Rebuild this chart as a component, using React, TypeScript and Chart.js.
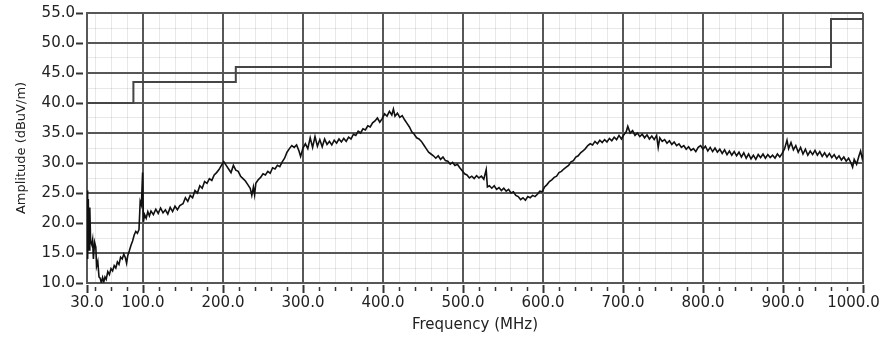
import { useEffect, useRef } from "react";
import { Chart, registerables } from "chart.js";

Chart.register(...registerables);

// Class B radiated emission limit: [start frequency MHz, level dBuV/m]
const limitSteps: [number, number][] = [
  [30, 40], [88, 43.5], [216, 46], [960, 54], [1000, 54],
];

// Measured peak scan: [frequency MHz, amplitude dBuV/m]
const measured: [number, number][] = [
  [30, 25.4], [30.8, 14.0], [31.6, 24.0], [32.5, 15.5], [33.5, 22.6], [34.5, 17.0],
  [36, 16.4], [37, 17.2], [38, 14.0], [39.5, 16.8], [41, 16.0], [42, 12.8],
  [43.5, 13.6], [45, 11.0], [46.5, 10.8], [48, 10.0], [49.5, 10.9], [51, 10.2],
  [52.5, 11.0], [54, 10.6], [56, 11.9], [58, 11.4], [60, 12.4], [62, 12.0],
  [64, 12.9], [66, 12.5], [68, 13.5], [70, 13.1], [72, 14.3], [74, 14.0],
  [76, 14.8], [78, 14.2], [79.5, 13.3], [81, 14.6], [83, 15.4], [85, 16.3],
  [87, 17.0], [89, 18.0], [91, 18.6], [93, 18.3], [95, 18.9], [96.5, 23.6],
  [98, 23.0], [99.5, 28.4], [100.5, 20.2], [102, 21.4], [104, 20.8], [106, 21.9],
  [108, 21.2], [110, 22.0], [113, 21.4], [116, 22.3], [119, 21.6], [122, 22.5],
  [125, 21.7], [128, 22.2], [131, 21.5], [134, 22.6], [137, 21.9], [140, 22.8],
  [143, 22.2], [146, 22.9], [150, 23.2], [153, 24.2], [156, 23.6], [159, 24.6],
  [162, 24.2], [165, 25.4], [168, 25.0], [171, 26.2], [174, 25.8], [177, 26.9],
  [180, 26.6], [183, 27.4], [186, 27.1], [189, 28.0], [192, 28.4], [195, 28.9],
  [198, 29.6], [201, 30.2], [204, 29.6], [207, 29.0], [210, 28.4], [213, 29.6],
  [216, 28.8], [219, 28.6], [222, 27.8], [225, 27.4], [228, 27.0], [231, 26.4],
  [234, 25.8], [236, 24.6], [238, 26.0], [239.5, 24.7], [241, 26.6], [244, 27.2],
  [247, 27.6], [250, 28.2], [253, 28.0], [256, 28.6], [259, 28.3], [262, 29.2],
  [265, 29.0], [268, 29.6], [271, 29.4], [274, 30.2], [277, 30.8], [280, 31.8],
  [283, 32.4], [286, 32.9], [289, 32.6], [292, 33.0], [295, 32.0], [297, 31.1],
  [300, 32.5], [303, 33.2], [306, 32.4], [309, 34.2], [312, 32.6], [315, 34.4],
  [318, 32.8], [321, 33.9], [324, 32.7], [327, 34.0], [330, 33.1], [333, 33.6],
  [336, 33.0], [339, 33.8], [342, 33.3], [345, 34.0], [348, 33.5], [351, 34.1],
  [354, 33.6], [357, 34.3], [360, 34.0], [363, 34.8], [366, 34.6], [369, 35.3],
  [372, 35.0], [375, 35.7], [378, 35.5], [381, 36.2], [384, 36.0], [387, 36.7],
  [390, 37.0], [393, 37.5], [396, 36.8], [399, 37.4], [402, 38.2], [405, 37.8],
  [408, 38.6], [411, 38.0], [413, 39.0], [415, 37.8], [418, 38.3], [421, 37.6],
  [424, 37.9], [427, 37.2], [430, 36.6], [433, 36.0], [436, 35.2], [439, 34.8],
  [442, 34.2], [445, 34.0], [448, 33.6], [451, 33.0], [454, 32.4], [457, 31.8],
  [460, 31.5], [463, 31.2], [466, 30.8], [469, 31.2], [472, 30.6], [475, 31.0],
  [478, 30.4], [481, 30.3], [484, 29.8], [487, 30.1], [490, 29.6], [493, 29.8],
  [496, 29.2], [499, 28.7], [502, 28.2], [505, 28.0], [508, 27.5], [511, 27.8],
  [514, 27.4], [517, 27.9], [520, 27.5], [523, 27.8], [526, 27.3], [529, 28.9],
  [530.5, 26.0], [533, 26.2], [536, 25.8], [539, 26.2], [542, 25.6], [545, 25.9],
  [548, 25.4], [551, 25.8], [554, 25.3], [557, 25.6], [560, 25.0], [563, 25.2],
  [566, 24.6], [569, 24.4], [572, 23.9], [575, 24.2], [578, 23.8], [581, 24.4],
  [584, 24.2], [587, 24.6], [590, 24.4], [593, 24.8], [596, 25.3], [599, 25.2],
  [602, 26.0], [605, 26.4], [608, 26.9], [611, 27.2], [614, 27.6], [617, 27.8],
  [620, 28.4], [623, 28.6], [626, 29.0], [629, 29.3], [632, 29.6], [635, 30.2],
  [638, 30.4], [641, 31.0], [644, 31.2], [647, 31.7], [650, 32.0], [653, 32.4],
  [656, 32.9], [659, 33.2], [662, 33.0], [665, 33.6], [668, 33.2], [671, 33.8],
  [674, 33.4], [677, 33.9], [680, 33.5], [683, 34.1], [686, 33.7], [689, 34.3],
  [692, 33.9], [695, 34.6], [698, 34.0], [701, 34.7], [704, 35.2], [706, 36.1],
  [709, 35.0], [712, 35.4], [715, 34.6], [718, 35.0], [721, 34.4], [724, 34.8],
  [727, 34.2], [730, 34.7], [733, 34.0], [736, 34.5], [739, 33.9], [742, 34.6],
  [744, 32.6], [746, 34.2], [749, 33.6], [752, 33.9], [755, 33.3], [758, 33.7],
  [761, 33.1], [764, 33.5], [767, 32.9], [770, 33.2], [773, 32.6], [776, 32.9],
  [779, 32.3], [782, 32.7], [785, 32.1], [788, 32.4], [791, 31.9], [794, 32.6],
  [797, 32.9], [800, 32.3], [803, 32.8], [806, 32.0], [809, 32.6], [812, 31.9],
  [815, 32.5], [818, 31.8], [821, 32.3], [824, 31.6], [827, 32.2], [830, 31.4],
  [833, 32.0], [836, 31.3], [839, 31.9], [842, 31.2], [845, 31.8], [848, 31.0],
  [851, 31.7], [854, 30.8], [857, 31.5], [860, 30.7], [863, 31.3], [866, 30.6],
  [869, 31.4], [872, 30.9], [875, 31.5], [878, 30.8], [881, 31.4], [884, 30.9],
  [887, 31.3], [890, 30.8], [893, 31.5], [896, 31.0], [899, 31.6], [902, 32.4],
  [905, 33.8], [907, 32.4], [910, 33.4], [913, 32.2], [916, 32.9], [919, 31.8],
  [922, 32.6], [925, 31.5], [928, 32.3], [931, 31.3], [934, 32.0], [937, 31.4],
  [940, 32.1], [943, 31.3], [946, 31.9], [949, 31.1], [952, 31.7], [955, 31.0],
  [958, 31.6], [961, 30.9], [964, 31.4], [967, 30.7], [970, 31.2], [973, 30.5],
  [976, 31.0], [979, 30.3], [982, 30.8], [985, 30.0], [987, 29.3], [989, 30.6],
  [992, 29.8], [995, 31.2], [997, 32.0], [999, 30.8], [1000, 31.4],
];

// Axis ticks
const freqMajorTicks = [30, 100, 200, 300, 400, 500, 600, 700, 800, 900, 1000];
const freqMinorSpacing = 20;
const ampRange = { min: 10, max: 55 };
const ampMajorSpacing = 5;
const ampMinorSpacing = 2.5;

const FONT = "'DejaVu Sans', Verdana, sans-serif";
const MAJOR_GRID = "#575757";
const MINOR_GRID = "rgba(0,0,0,0.09)";
const TEXT = "#222";

function buildFreqTicks(): number[] {
  const all = new Set<number>(freqMajorTicks);
  for (let f = 40; f < 1000; f += freqMinorSpacing) all.add(f);
  return Array.from(all).sort((a, b) => a - b);
}

const isMajorFreq = (v: number) => freqMajorTicks.includes(v);
const isMajorAmp = (v: number) => Math.abs(v / ampMajorSpacing - Math.round(v / ampMajorSpacing)) < 1e-6;

// Short tick marks just outside the plot frame
const tickMarks = {
  id: "tickMarks",
  afterDraw(chart: any) {
    const { ctx, chartArea, scales } = chart;
    const x = scales.x;
    const y = scales.y;
    ctx.save();
    ctx.strokeStyle = "#333";
    for (const v of buildFreqTicks()) {
      const px = Math.round(x.getPixelForValue(v)) + 0.5;
      const major = isMajorFreq(v);
      ctx.lineWidth = major ? 2 : 1.5;
      ctx.beginPath();
      ctx.moveTo(px, chartArea.bottom + (major ? 2 : 4));
      ctx.lineTo(px, chartArea.bottom + (major ? 10 : 8));
      ctx.stroke();
    }
    for (let v = ampRange.min; v <= ampRange.max; v += ampMajorSpacing) {
      const py = Math.round(y.getPixelForValue(v)) + 0.5;
      ctx.lineWidth = 2;
      ctx.beginPath();
      ctx.moveTo(chartArea.left - 11, py);
      ctx.lineTo(chartArea.left - 4, py);
      ctx.stroke();
    }
    ctx.restore();
  },
};

export default function App() {
  const canvasRef = useRef<HTMLCanvasElement | null>(null);

  useEffect(() => {
    const canvas = canvasRef.current;
    if (!canvas) return;
    const chart = new Chart(canvas, {
      type: "line",
      data: {
        datasets: [
          {
            label: "Measured",
            data: measured.map(([f, a]) => ({ x: f, y: a })),
            borderColor: "#111",
            borderWidth: 1.6,
            pointRadius: 0,
            tension: 0,
            fill: false,
          },
          {
            label: "Limit",
            data: limitSteps.map(([f, a]) => ({ x: f, y: a })),
            borderColor: "#454545",
            borderWidth: 2,
            pointRadius: 0,
            stepped: "before",
            fill: false,
          },
        ],
      },
      options: {
        animation: false,
        responsive: false,
        maintainAspectRatio: false,
        devicePixelRatio: 1,
        layout: { padding: { left: 0, right: 18, top: 13, bottom: 0 } },
        plugins: { legend: { display: false }, tooltip: { enabled: false } },
        scales: {
          x: {
            type: "linear",
            min: 30,
            max: 1000,
            afterBuildTicks: (scale: any) => {
              scale.ticks = buildFreqTicks().map((v) => ({ value: v }));
            },
            afterFit: (scale: any) => {
              scale.height = 56;
              scale.paddingLeft = 0;
              scale.paddingRight = 0;
            },
            border: { display: true, color: MAJOR_GRID, width: 2 },
            grid: {
              drawTicks: false,
              color: (c: any) => (isMajorFreq(c.tick?.value) ? MAJOR_GRID : MINOR_GRID),
              lineWidth: (c: any) => (isMajorFreq(c.tick?.value) ? 2 : 1),
            },
            ticks: {
              autoSkip: false,
              maxRotation: 0,
              padding: 11,
              color: TEXT,
              font: { family: FONT, size: 15 },
              callback: (v: any) => {
                const n = Number(v);
                if (!isMajorFreq(n)) return "";
                return n === 1000 ? n.toFixed(1) + "    " : n.toFixed(1);
              },
            },
            title: {
              display: true,
              text: "Frequency (MHz)",
              color: TEXT,
              font: { family: FONT, size: 15 },
              padding: { top: 0, bottom: 5 },
            },
          },
          y: {
            type: "linear",
            min: ampRange.min,
            max: ampRange.max,
            afterFit: (scale: any) => {
              scale.width = 87;
              scale.paddingTop = 0;
              scale.paddingBottom = 0;
            },
            border: { display: true, color: MAJOR_GRID, width: 2 },
            grid: {
              drawTicks: false,
              color: (c: any) => (isMajorAmp(c.tick?.value) ? MAJOR_GRID : MINOR_GRID),
              lineWidth: (c: any) => (isMajorAmp(c.tick?.value) ? 2 : 1),
            },
            ticks: {
              stepSize: ampMinorSpacing,
              autoSkip: false,
              padding: 12,
              color: TEXT,
              font: { family: FONT, size: 15 },
              callback: (v: any) => (isMajorAmp(Number(v)) ? Number(v).toFixed(1) : ""),
            },
            title: {
              display: true,
              text: "Amplitude (dBuV/m)",
              color: TEXT,
              font: { family: FONT, size: 13 },
              padding: { top: 14, bottom: 0 },
            },
          },
        },
      },
      plugins: [tickMarks],
    });
    return () => chart.destroy();
  }, []);

  return (
    <div style={{ position: "absolute", left: 0, top: 0, width: 881, height: 339, background: "#fff" }}>
      <canvas ref={canvasRef} width={881} height={339} />
    </div>
  );
}
